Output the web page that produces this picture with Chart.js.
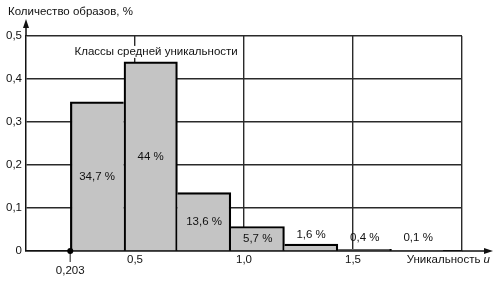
<!DOCTYPE html>
<html>
<head>
<meta charset="utf-8">
<script src="https://cdn.jsdelivr.net/npm/chart.js@4"></script>
<style>
  html, body { margin: 0; padding: 0; background: #fff; }
  #wrap { width: 497px; height: 281px; }
</style>
</head>
<body>
<div id="wrap"><canvas id="hist"></canvas></div>
<script>
// Распределение образов по классам уникальности
const classCenters = [0.326, 0.572, 0.817, 1.063, 1.308, 1.554, 1.799];
const shares = [0.347, 0.44, 0.136, 0.057, 0.016, 0.004, 0.001];
const shareLabels = ['34,7 %', '44 %', '13,6 %', '5,7 %', '1,6 %', '0,4 %', '0,1 %'];
const xTicks = [0.203, 0.5, 1.0, 1.5, 2.0];
const xTickLabels = ['0,203', '0,5', '1,0', '1,5', ''];
const yTickLabels = ['0', '0,1', '0,2', '0,3', '0,4', '0,5'];

const FONT = '"Liberation Sans", Arial, sans-serif';
const FS = 11.5;
const INK = '#111';

// рамка столбца: общая сторона рисуется только у более высокого столбца
function bordersFor(ctx) {
    const i = ctx.dataIndex;
    const prev = i > 0 ? shares[i - 1] : -1;
    const next = i < shares.length - 1 ? shares[i + 1] : -1;
    return {
        top: 2.2,
        left: prev < shares[i] ? 2.2 : 0,
        right: next < shares[i] ? 2.2 : 0,
        bottom: 0
    };
}

const decorPlugin = {
    id: 'decor',
    afterDatasetsDraw(chart) {
        const c = chart.ctx;
        const area = chart.chartArea;
        const xs = chart.scales.x;
        const ys = chart.scales.y;
        const zeroY = ys.getPixelForValue(0);
        c.save();
        c.font = FS + 'px ' + FONT;
        c.fillStyle = INK;
        c.textAlign = 'center';

        // подписи столбцов
        chart.getDatasetMeta(0).data.forEach((bar, i) => {
            const h = zeroY - bar.y;
            if (h > 16) {
                c.textBaseline = 'middle';
                c.fillText(shareLabels[i], bar.x, (bar.y + zeroY) / 2);
            } else {
                c.textBaseline = 'bottom';
                c.fillText(shareLabels[i], bar.x, Math.min(bar.y - 4, zeroY - 7));
            }
        });

        // надпись «Классы средней уникальности»
        const note = 'Классы средней уникальности';
        const nx = xs.getPixelForValue(0.597);
        const ny = ys.getPixelForValue(0.463);
        const nw = c.measureText(note).width;
        c.fillStyle = '#fff';
        c.fillRect(nx - nw / 2 - 2, ny - 6, nw + 4, 12);
        c.fillStyle = INK;
        c.textBaseline = 'middle';
        c.fillText(note, nx, ny);

        // отметка 0,203
        const px = xs.getPixelForValue(0.203);
        c.strokeStyle = '#666';
        c.lineWidth = 1.5;
        c.beginPath();
        c.moveTo(px, zeroY);
        c.lineTo(px, zeroY + 11);
        c.stroke();
        c.fillStyle = '#000';
        c.beginPath();
        c.arc(px, zeroY, 3, 0, Math.PI * 2);
        c.fill();

        // оси со стрелками
        c.strokeStyle = INK;
        c.fillStyle = INK;
        c.lineWidth = 1.5;
        c.beginPath();
        c.moveTo(area.left, area.top);
        c.lineTo(area.left, area.top - 12);
        c.moveTo(area.right, zeroY);
        c.lineTo(area.right + 26, zeroY);
        c.stroke();
        c.beginPath();
        c.moveTo(area.left, area.top - 17);
        c.lineTo(area.left - 3, area.top - 8);
        c.lineTo(area.left + 3, area.top - 8);
        c.closePath();
        c.fill();
        c.beginPath();
        c.moveTo(area.right + 31, zeroY);
        c.lineTo(area.right + 22, zeroY - 3);
        c.lineTo(area.right + 22, zeroY + 3);
        c.closePath();
        c.fill();

        // названия осей
        c.textAlign = 'left';
        c.textBaseline = 'middle';
        c.fillText('Количество образов, %', 8, 12);
        c.font = 'italic ' + FS + 'px ' + FONT;
        const uw = c.measureText('u').width;
        c.textAlign = 'right';
        c.fillText('u', 490, zeroY + 9);
        c.font = FS + 'px ' + FONT;
        c.fillText('Уникальность ', 490 - uw, zeroY + 9);
        c.restore();
    }
};

new Chart(document.getElementById('hist'), {
    type: 'bar',
    data: {
        datasets: [{
            data: classCenters.map((x, i) => ({ x: x, y: shares[i] })),
            backgroundColor: '#c4c4c4',
            borderColor: '#000',
            borderWidth: bordersFor,
            borderSkipped: 'start',
            barPercentage: 1,
            categoryPercentage: 1
        }]
    },
    options: {
        responsive: true,
        maintainAspectRatio: false,
        animation: false,
        layout: { padding: { top: 36, right: 35, left: 0, bottom: 0 } },
        plugins: {
            legend: { display: false },
            tooltip: { enabled: false }
        },
        scales: {
            x: {
                type: 'linear',
                min: 0,
                max: 2.0,
                offset: false,
                afterBuildTicks: s => { s.ticks = xTicks.map(v => ({ value: v })); },
                afterFit: s => { s.height = 30; },
                grid: {
                    offset: false,
                    drawTicks: false,
                    color: ctx => (ctx.tick && ctx.tick.value === 0.203) ? 'rgba(0,0,0,0)' : '#2a2a2a',
                    lineWidth: 1.4
                },
                border: { display: true, color: INK, width: 1.5 },
                ticks: {
                    padding: 3,
                    color: INK,
                    maxRotation: 0,
                    autoSkip: false,
                    font: { family: FONT, size: FS, lineHeight: 1.0 },
                    callback: (v, i) => i === 0 ? ['', xTickLabels[0]] : xTickLabels[i]
                }
            },
            y: {
                min: 0,
                max: 0.5,
                afterFit: s => { s.width = 26; },
                grid: { drawTicks: false, color: '#2a2a2a', lineWidth: 1.4 },
                border: { display: true, color: INK, width: 1.5 },
                ticks: {
                    stepSize: 0.1,
                    padding: 4,
                    color: INK,
                    font: { family: FONT, size: FS },
                    callback: (v, i) => yTickLabels[i]
                }
            }
        }
    },
    plugins: [decorPlugin]
});
</script>
</body>
</html>
